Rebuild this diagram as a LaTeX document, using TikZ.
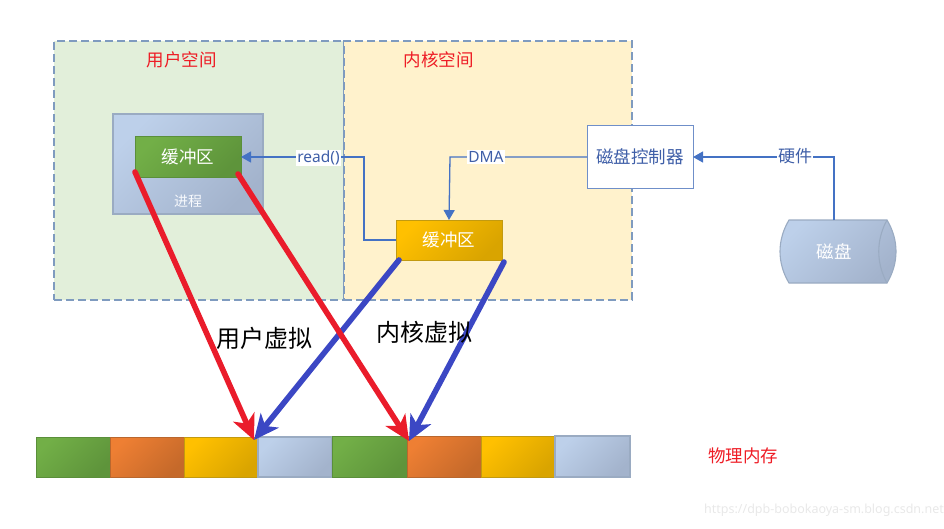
\documentclass[tikz,border=0pt]{standalone}
\usepackage{fontspec}
\setmainfont{Noto Sans CJK SC}
\newfontfamily\latinfont{Noto Sans}
\usetikzlibrary{arrows.meta}
\definecolor{bgGreen}{HTML}{E2EFDA}
\definecolor{bgYellow}{HTML}{FFF2CC}
\definecolor{dashC}{HTML}{7F9BBF}
\definecolor{lineC}{HTML}{4472C4}
\definecolor{ctrlC}{HTML}{6F8FC9}
\definecolor{textB}{HTML}{3F5FA8}
\definecolor{redC}{HTML}{EA1C2B}
\definecolor{blueC}{HTML}{3B47C4}
\definecolor{labelRed}{HTML}{EE1C25}
\definecolor{SteelA}{HTML}{BDD0EA}\definecolor{SteelB}{HTML}{A3B3CC}\definecolor{SteelD}{HTML}{9AABC2}
\definecolor{GreenA}{HTML}{72AF47}\definecolor{GreenB}{HTML}{5E943B}\definecolor{GreenD}{HTML}{5A8F3A}
\definecolor{OrangeA}{HTML}{EE7F33}\definecolor{OrangeB}{HTML}{C5692A}\definecolor{OrangeD}{HTML}{B9672E}
\definecolor{GoldA}{HTML}{FFC000}\definecolor{GoldB}{HTML}{D9A400}\definecolor{GoldD}{HTML}{C29A10}
\tikzset{
  base/.style={inner sep=0pt,outer sep=0pt,font=\fontsize{17.5}{20}\selectfont,text=white},
  region/.style={base,draw=dashC,dash pattern=on 8pt off 4pt,line width=1.2pt},
  steelbox/.style={base,left color=SteelA,middle color=SteelB!85!SteelA,right color=SteelB,shading angle=45,draw=SteelD,line width=1.1pt},
  greenbox/.style={base,left color=GreenA,middle color=GreenB!80!GreenA,right color=GreenB,shading angle=45,draw=GreenD,line width=.9pt},
  orangebox/.style={base,left color=OrangeA,middle color=OrangeB!75!OrangeA,right color=OrangeB,shading angle=45,draw=OrangeD,line width=.9pt},
  goldbox/.style={base,left color=GoldA,middle color=GoldB!75!GoldA,right color=GoldB,shading angle=45,draw=GoldD,line width=.9pt},
  conn/.style={draw=lineC,line width=1.3pt},
  tipped/.style={conn,-{Triangle[length=10pt,width=11pt]}},
  tag/.style={fill=white,inner sep=1pt,text=textB},
  bigred/.style={draw=redC,line width=5.6pt,line cap=round,-{Stealth[length=25pt,width=23pt,inset=7pt]}},
  bigblue/.style={draw=blueC,line width=5.6pt,line cap=round,-{Stealth[length=25pt,width=23pt,inset=7pt]}},
  heading/.style={text=labelRed,inner sep=0pt,font=\fontsize{17.5}{20}\selectfont},
  bigtext/.style={text=black,inner sep=0pt,font=\fontsize{24}{28}\selectfont}
}
\begin{document}
\begin{tikzpicture}[x=1pt,y=-1pt]
\useasboundingbox (0,0) rectangle (944,528);
% regions
\node[region,fill=bgGreen,minimum width=290pt,minimum height=259pt] (user) at (199,170.5) {};
\node[region,fill=bgYellow,minimum width=288pt,minimum height=259pt] (kernel) at (488,170.5) {};
\node[heading] (userT) at (181.5,60) {用户空间};
\node[heading] (kernT) at (438.5,60) {内核空间};
% process
\node[steelbox,minimum width=150pt,minimum height=100pt] (proc) at (188,164) {};
\node[base,font=\fontsize{14}{16}\selectfont,text=white!90!SteelA] (procT) at (188,201) {进程};
\node[greenbox,minimum width=106pt,minimum height=41pt] (ubuf) at (188,156.5) {缓冲区};
% kernel buffer
\node[goldbox,minimum width=106pt,minimum height=40pt] (kbuf) at (449,240) {缓冲区};
% controller
\node[base,draw=ctrlC,fill=white,line width=1pt,minimum width=106pt,minimum height=63pt,text=textB] (ctrl) at (640,156.5) {磁盘控制器};
% disk
\path[left color=SteelA,middle color=SteelB!85!SteelA,right color=SteelB,shading angle=45,draw=SteelD,line width=1.1pt]
  (789,220) -- (887,220) .. controls (899,240) and (899,263) .. (887,283) -- (789,283) .. controls (777,263) and (777,240) .. (789,220) -- cycle;
\draw[SteelD,line width=1.1pt] (887,220) .. controls (876,240) and (876,263) .. (887,283);
\node[base,minimum width=98pt,minimum height=63pt] (disk) at (834,251.5) {磁盘};
% connectors
\coordinate (c1) at (364,240);
\coordinate (c2) at (364,157);
\coordinate (c3) at (450,157);
\coordinate (c4) at (834,157);
\coordinate (ctrlW) at (587,157);
\coordinate (ctrlE) at (693,157);
\coordinate (ubufE) at (241,157);
\draw[tipped] (kbuf.west) -- (c1) -- (c2) -- (ubufE);
\node[tag,font=\latinfont\fontsize{15.5}{18}\selectfont] (readT) at (318.5,158) {read()};
\draw[tipped] (ctrlW) -- (c3) -- (kbuf.north);
\node[tag,font=\latinfont\fontsize{15.5}{18}\selectfont] (dmaT) at (486,157) {DMA};
\draw[tipped] (disk.north) -- (c4) -- (ctrlE);
\node[tag,font=\fontsize{17}{20}\selectfont] (hwT) at (795,156.5) {硬件};
% memory
\node[greenbox,minimum width=74pt,minimum height=40pt] (m1) at (73,457) {};
\node[orangebox,minimum width=74pt,minimum height=40pt] (m2) at (147,457) {};
\node[goldbox,minimum width=74pt,minimum height=40pt] (m3) at (221,457) {};
\node[steelbox,minimum width=74pt,minimum height=40pt] (m4) at (295,457) {};
\node[greenbox,minimum width=75pt,minimum height=41pt] (m5) at (369.5,456.5) {};
\node[orangebox,minimum width=74pt,minimum height=41pt] (m6) at (444,456.5) {};
\node[goldbox,minimum width=74pt,minimum height=41pt] (m7) at (518,456.5) {};
\node[steelbox,minimum width=75pt,minimum height=41pt] (m8) at (592.5,456.5) {};
% big arrows
\coordinate (r1s) at (135,172);
\coordinate (r2s) at (238,174);
\coordinate (b1s) at (399,260);
\coordinate (b2s) at (504,262);
\coordinate (t1) at (254,440);
\coordinate (t2) at (409,441);
\draw[bigred] (r1s) -- (t1);
\draw[bigblue] (b1s) -- (t1);
\draw[bigblue] (b2s) -- (t2);
\draw[bigred] (r2s) -- (t2);
% labels
\node[bigtext] (uvT) at (264,338) {用户虚拟};
\node[bigtext] (kvT) at (424,332) {内核虚拟};
\node[heading] (memT) at (743,456) {物理内存};
\node[inner sep=0pt,text=black!9,font=\latinfont\fontsize{12.5}{14}\selectfont] (wm) at (824,510) {https://dpb-bobokaoya-sm.blog.csdn.net};
\end{tikzpicture}
\end{document}
